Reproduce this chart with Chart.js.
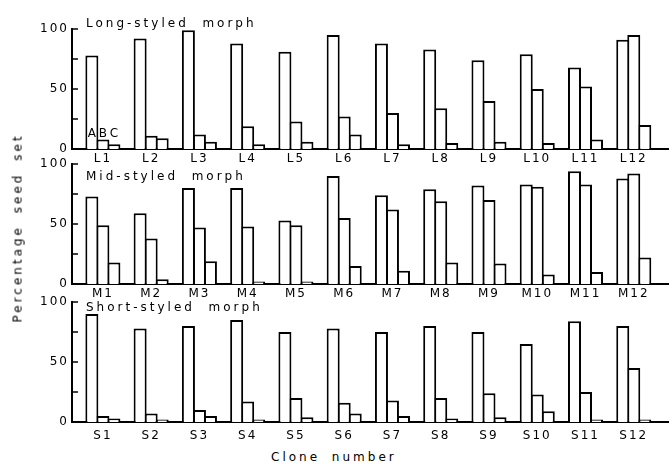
<!DOCTYPE html>
<html>
<head>
<meta charset="utf-8">
<script src="https://cdn.jsdelivr.net/npm/chart.js@4.4.1/dist/chart.umd.min.js"></script>
<style>
  body { margin: 0; background: #fff; }
  #wrap { position: relative; width: 669px; height: 465px; overflow: hidden; }
  canvas { position: absolute; left: 0; }
  .axis-title { position: absolute; font-family: "DejaVu Sans", sans-serif; font-size: 12px; color: #000; letter-spacing: 3px; word-spacing: 5px; white-space: nowrap; }
</style>
</head>
<body>
<div id="wrap">
  <canvas id="longChart" width="669" height="166" style="top:0px"></canvas>
  <canvas id="midChart" width="669" height="150" style="top:150px"></canvas>
  <canvas id="shortChart" width="669" height="152" style="top:288px"></canvas>
  <div class="axis-title" id="ytitle">Percentage seed set</div>
  <div class="axis-title" id="xtitle">Clone number</div>
</div>
<script>
// clone names for each morph
var longClones = ['L1', 'L2', 'L3', 'L4', 'L5', 'L6', 'L7', 'L8', 'L9', 'L10', 'L11', 'L12'];
var midClones = ['M1', 'M2', 'M3', 'M4', 'M5', 'M6', 'M7', 'M8', 'M9', 'M10', 'M11', 'M12'];
var shortClones = ['S1', 'S2', 'S3', 'S4', 'S5', 'S6', 'S7', 'S8', 'S9', 'S10', 'S11', 'S12'];
var seriesNames = ['A', 'B', 'C'];

// percentage seed set
var longA = [78, 92, 99, 88, 81, 95, 88, 83, 74, 79, 68, 91];
var longB = [8, 11, 12, 19, 23, 27, 30, 34, 40, 50, 52, 95];
var longC = [4, 9, 6, 4, 6, 12, 4, 5, 6, 5, 8, 20];

var midA = [73, 59, 80, 80, 53, 90, 74, 79, 82, 83, 94, 88];
var midB = [49, 38, 47, 48, 49, 55, 62, 69, 70, 81, 83, 92];
var midC = [18, 4, 19, 2, 2, 15, 11, 18, 17, 8, 10, 22];

var shortA = [90, 78, 80, 85, 75, 78, 75, 80, 75, 65, 84, 80];
var shortB = [5, 7, 10, 17, 20, 16, 18, 20, 24, 23, 25, 45];
var shortC = [3, 2, 5, 2, 4, 7, 5, 3, 4, 9, 2, 2];

var yTicks = [0, 25, 50, 75, 100];
var FONT = '"DejaVu Sans", sans-serif';

// ticks on the y axis point into the plot
var inwardTicks = {
    id: 'inwardTicks',
    beforeDraw: function (chart) {
        chart.ctx.letterSpacing = '2px';
    },
    afterDraw: function (chart) {
        var ctx = chart.ctx, area = chart.chartArea, y = chart.scales.y;
        ctx.save();
        ctx.strokeStyle = '#000';
        ctx.lineWidth = 1.5;
        yTicks.forEach(function (v) {
            var py = y.getPixelForValue(v);
            ctx.beginPath();
            ctx.moveTo(area.left, py);
            ctx.lineTo(area.left + 6, py);
            ctx.stroke();
        });
        ctx.restore();
    }
};

// panel caption and the A B C key over the first group
var panelText = {
    id: 'panelText',
    afterDraw: function (chart, args, opts) {
        var ctx = chart.ctx, area = chart.chartArea;
        ctx.save();
        ctx.fillStyle = '#000';
        ctx.font = '12px ' + FONT;
        ctx.letterSpacing = '3px';
        ctx.textBaseline = 'alphabetic';
        ctx.textAlign = 'left';
        ctx.fillText(opts.text, area.left + 14, area.top + opts.dy);
        if (opts.key) {
            ctx.letterSpacing = '0px';
            ctx.textAlign = 'center';
            var base = chart.getDatasetMeta(1).data[0].y - 2;
            seriesNames.forEach(function (s, i) {
                var bar = chart.getDatasetMeta(i).data[0];
                ctx.fillText(s, bar.x, base);
            });
        }
        ctx.restore();
    }
};

function makePanel(id, clones, a, b, c, title, layout) {
    var ctx = document.getElementById(id).getContext('2d');
    var positions = clones.map(function (n, i) { return i + 1; });
    var values = [a, b, c];
    return new Chart(ctx, {
        type: 'bar',
        data: {
            labels: positions,
            datasets: values.map(function (d, i) {
                return {
                    label: seriesNames[i],
                    data: d,
                    backgroundColor: '#fff',
                    borderColor: '#000',
                    borderWidth: 2,
                    categoryPercentage: 0.685,
                    barPercentage: 1.18
                };
            })
        },
        options: {
            responsive: false,
            animation: false,
            layout: { padding: { top: layout.top, right: 0, left: 0, bottom: 0 } },
            plugins: {
                legend: { display: false },
                tooltip: { enabled: false },
                panelText: { text: title, dy: layout.titleDy, key: layout.key }
            },
            scales: {
                x: {
                    type: 'linear',
                    offset: false,
                    min: 0.36,
                    max: 12.73,
                    afterBuildTicks: function (s) {
                        s.ticks = positions.map(function (p) { return { value: p }; });
                    },
                    afterFit: function (s) { s.height = layout.axisH; },
                    grid: { display: false, drawTicks: false },
                    border: { display: true, color: '#000', width: 2 },
                    ticks: {
                        padding: layout.labelPad,
                        color: '#000',
                        font: { family: FONT, size: 12 },
                        maxRotation: 0,
                        autoSkip: false,
                        callback: function (v) { return clones[v - 1]; }
                    }
                },
                y: {
                    min: 0,
                    max: 100,
                    afterFit: function (s) { s.width = 72; },
                    grid: { display: false, drawTicks: false },
                    border: { display: true, color: '#000', width: 2 },
                    ticks: {
                        stepSize: 25,
                        padding: 3,
                        color: '#000',
                        font: { family: FONT, size: 12 },
                        callback: function (v) { return v % 50 === 0 ? v : ''; }
                    }
                }
            }
        },
        plugins: [inwardTicks, panelText]
    });
}

makePanel('longChart', longClones, longA, longB, longC, 'Long-styled  morph',
    { top: 29, axisH: 17, labelPad: 3, titleDy: -2, key: true });
makePanel('midChart', midClones, midA, midB, midC, 'Mid-styled  morph',
    { top: 14, axisH: 16, labelPad: 3, titleDy: 16, key: false });
makePanel('shortChart', shortClones, shortA, shortB, shortC, 'Short-styled  morph',
    { top: 14, axisH: 18, labelPad: 7, titleDy: 9, key: false });

// axis titles shared by the three panels
var yt = document.getElementById('ytitle');
yt.style.left = (17 - yt.offsetWidth / 2) + 'px';
yt.style.top = (228 - yt.offsetHeight / 2) + 'px';
yt.style.transform = 'rotate(-90deg)';
var xt = document.getElementById('xtitle');
xt.style.left = (334 - xt.offsetWidth / 2) + 'px';
xt.style.top = (457 - xt.offsetHeight / 2) + 'px';
</script>
</body>
</html>
